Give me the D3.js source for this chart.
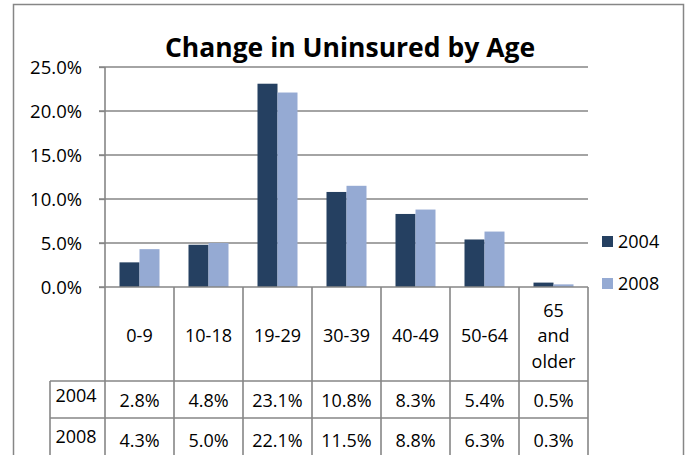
<!DOCTYPE html>
<html>
<head>
<meta charset="utf-8">
<script src="https://cdn.jsdelivr.net/npm/d3@7"></script>
<style>
  html, body { margin: 0; padding: 0; background: #fff; }
  svg { display: block; }
  text { font-family: "Open Sans", Lato, sans-serif; fill: #000; }
</style>
</head>
<body>
<svg id="chart" width="691" height="455"></svg>
<script>
const categories = ["0-9", "10-18", "19-29", "30-39", "40-49", "50-64", "65 and older"];
const categoryLines = [["0-9"], ["10-18"], ["19-29"], ["30-39"], ["40-49"], ["50-64"], ["65", "and", "older"]];
const seriesNames = ["2004", "2008"];
const values2004 = [2.8, 4.8, 23.1, 10.8, 8.3, 5.4, 0.5];
const values2008 = [4.3, 5.0, 22.1, 11.5, 8.8, 6.3, 0.3];
const yTicks = [0, 5, 10, 15, 20, 25];
const colors = ["#254061", "#95AAD3"];
const title = "Change in Uninsured by Age";

const seriesValues = [values2004, values2008];
const svg = d3.select("#chart");
const gridColor = "#868686";

const plotLeft = 105, plotRight = 588, plotTop = 67, plotBottom = 287;
const rowLabelLeft = 50;
const headerBottom = 381, row1Bottom = 418, row2Bottom = 455;

// outer border
svg.append("rect").attr("x", 13.5).attr("y", 4.5).attr("width", 670).attr("height", 470)
  .attr("fill", "none").attr("stroke", gridColor).attr("stroke-width", 1.5);

const x0 = d3.scaleBand().domain(categories).range([plotLeft, plotRight]).padding(0);
const x1 = d3.scaleBand().domain(seriesNames).range([0, x0.bandwidth()]).paddingInner(0).paddingOuter(0.725);
const y = d3.scaleLinear().domain([0, 25]).range([plotBottom, plotTop]);

// gridlines
svg.append("g").selectAll("line").data(yTicks.filter(d => d > 0)).join("line")
  .attr("x1", plotLeft - 6).attr("x2", plotRight)
  .attr("y1", d => y(d)).attr("y2", d => y(d))
  .attr("stroke", gridColor).attr("stroke-width", 1.3);

// y axis
const yAxis = d3.axisLeft(y).tickValues(yTicks).tickSize(6).tickPadding(17)
  .tickFormat(d => d3.format(".1f")(d) + "%");
const ya = svg.append("g").attr("transform", `translate(${plotLeft},0)`).call(yAxis);
ya.select(".domain").remove();
ya.selectAll(".tick line").attr("stroke", gridColor).attr("stroke-width", 1.3);
ya.selectAll(".tick text").style("font-size", "18.5px").style("font-family", "'Open Sans', sans-serif")
  .attr("fill", "#000").attr("dy", "0.35em");

// bars
const groups = svg.append("g").selectAll("g").data(categories).join("g")
  .attr("transform", d => `translate(${x0(d)},0)`);
groups.selectAll("rect").data((c, i) => seriesNames.map((s, j) => ({ s, v: seriesValues[j][i], j })))
  .join("rect")
  .attr("x", d => x1(d.s)).attr("width", x1.bandwidth())
  .attr("y", d => y(d.v)).attr("height", d => y(0) - y(d.v))
  .attr("fill", d => colors[d.j]);

// axis lines & table grid
const g = svg.append("g").attr("stroke", gridColor).attr("stroke-width", 1.6);
g.append("line").attr("x1", plotLeft).attr("x2", plotLeft).attr("y1", plotTop).attr("y2", row2Bottom + 5);
g.append("line").attr("x1", plotLeft - 6).attr("x2", plotRight).attr("y1", plotBottom).attr("y2", plotBottom);
const bounds = categories.map(c => x0(c) + x0.bandwidth());
g.selectAll(".v").data(bounds).join("line")
  .attr("x1", d => d).attr("x2", d => d).attr("y1", plotBottom).attr("y2", row2Bottom + 5);
g.append("line").attr("x1", rowLabelLeft).attr("x2", rowLabelLeft).attr("y1", headerBottom).attr("y2", row2Bottom + 5);
[headerBottom, row1Bottom].forEach(yy => {
  g.append("line").attr("x1", rowLabelLeft).attr("x2", plotRight).attr("y1", yy).attr("y2", yy);
});

// category labels in header
categoryLines.forEach((lines, i) => {
  const cx = x0(categories[i]) + x0.bandwidth() / 2;
  const n = lines.length;
  lines.forEach((ln, k) => {
    svg.append("text").attr("x", cx).attr("y", 342 + (k - (n - 1) / 2) * 25.5)
      .attr("text-anchor", "middle").style("font-size", "18px").text(ln);
  });
});

// table rows
const rowBaselines = [[402, 407], [443, 447]];
seriesNames.forEach((s, j) => {
  svg.append("text").attr("x", 76).attr("y", rowBaselines[j][0]).attr("text-anchor", "middle")
    .style("font-size", "18px").text(s);
  seriesValues[j].forEach((v, i) => {
    svg.append("text").attr("x", x0(categories[i]) + x0.bandwidth() / 2).attr("y", rowBaselines[j][1])
      .attr("text-anchor", "middle").style("font-size", "18px").text(d3.format(".1f")(v) + "%");
  });
});

// legend
const legend = svg.append("g").selectAll("g").data(seriesNames).join("g")
  .attr("transform", (d, i) => `translate(602,${236 + i * 42})`);
legend.append("rect").attr("width", 11).attr("height", 11).attr("fill", (d, i) => colors[i]);
legend.append("text").attr("x", 16).attr("y", 12).style("font-size", "18px").text(d => d);

// title
svg.append("text").attr("x", 350).attr("y", 56.5).attr("text-anchor", "middle")
  .style("font-size", "26.5px").style("font-weight", "bold").text(title);
</script>
</body>
</html>
